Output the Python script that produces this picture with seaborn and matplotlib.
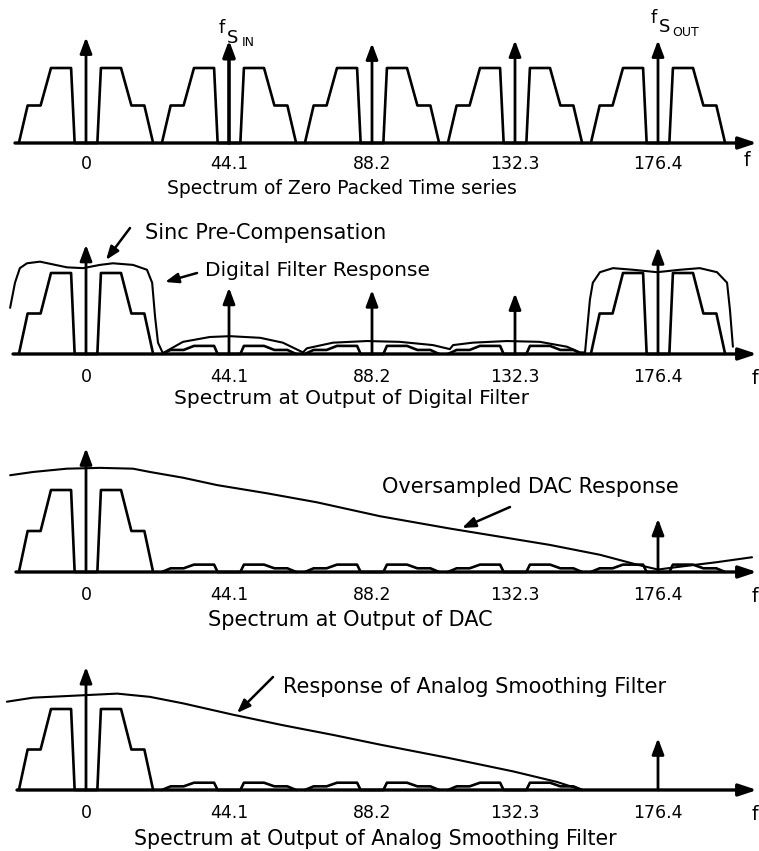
import numpy as np
import pandas as pd
import matplotlib
matplotlib.use("Agg")
import matplotlib.pyplot as plt
import seaborn as sns

sns.set_theme(style="white")
plt.rcParams['font.family'] = ['DejaVu Sans']
plt.rcParams['text.color'] = 'black'

# ---------------- data (frequency in kHz, amplitude relative to image top) ----------------
image_centers = [0.0, 44.1, 88.2, 132.3, 176.4]
tick_labels = ["0", "44.1", "88.2", "132.3", "176.4"]

# one half of the baseband spectrum (mirrored about each image centre)
shape_offset = [3.5, 4.6, 10.8, 14.0, 18.0, 20.7]
shape_level = [0.0, 1.0, 1.0, 0.5, 0.5, 0.0]

# image scale per panel
scale_zero_packed = [1.0, 1.0, 1.0, 1.0, 1.0]
scale_digital = [1.0, 0.1, 0.1, 0.1, 1.0]
scale_dac = [1.0, 0.09, 0.09, 0.09, 0.09]
scale_analog = [1.0, 0.09, 0.09, 0.09, 0.0]

# spectral line heights per panel
line_zero_packed = [1.41, 1.37, 1.33, 1.37, 1.37]
line_digital = [1.35, 0.82, 0.79, 0.75, 1.32]
line_dac = [1.51, 0.0, 0.0, 0.0, 0.65]
line_analog = [1.52, 0.0, 0.0, 0.0, 0.64]

# digital filter response (with sinc pre-compensation)
dig_f = [-23.4, -21.9, -20.4, -18.2, -14.2, -5.9, -0.9, 4.3, 8.3, 14.5, 18.8, 20.4, 21.3,
         22.2, 23.7, 29.9, 38.2, 44.4, 53.7, 60.7, 66.9, 68.1, 76.2, 86.6, 96.8, 107.0,
         112.2, 113.2, 119.3, 129.8, 140.0, 148.3, 152.3, 153.9, 155.4, 156.3, 158.5,
         162.5, 168.7, 176.1, 183.2, 189.3, 194.6, 197.7, 198.6, 199.5]
dig_a = [0.57, 0.88, 1.06, 1.12, 1.14, 1.07, 1.06, 1.10, 1.12, 1.10, 1.04, 0.88, 0.46,
         0.14, 0.01, 0.15, 0.21, 0.22, 0.20, 0.14, 0.02, 0.07, 0.14, 0.16, 0.15, 0.11,
         0.06, 0.11, 0.14, 0.16, 0.15, 0.09, 0.02, 0.02, 0.67, 0.88, 1.01, 1.06, 1.04,
         1.01, 1.04, 1.06, 1.01, 0.88, 0.54, 0.09]

# oversampled DAC response
dac_f = [-23.4, -16.3, -5.9, 4.3, 14.5, 19.7, 29.9, 40.4, 55.8, 71.2, 90.7, 112.2, 127.7,
         143.1, 158.5, 169.9, 176.4, 182.2, 194.6, 205.4]
dac_a = [1.18, 1.22, 1.26, 1.27, 1.26, 1.22, 1.15, 1.06, 0.96, 0.85, 0.68, 0.53, 0.43,
         0.33, 0.21, 0.09, 0.03, 0.06, 0.12, 0.18]

# analog smoothing filter response
ana_f = [-24.4, -16.3, -5.9, 9.6, 19.7, 29.9, 45.3, 60.7, 76.2, 90.7, 111.3, 131.7, 145.2,
         148.3, 152.3]
ana_a = [1.09, 1.14, 1.16, 1.19, 1.15, 1.07, 0.93, 0.80, 0.68, 0.56, 0.40, 0.23, 0.10,
         0.06, 0.01]

titles = ["Spectrum of Zero Packed Time series",
          "Spectrum at Output of Digital Filter",
          "Spectrum at Output of DAC",
          "Spectrum at Output of Analog Smoothing Filter"]

# ---------------- layout (pixel geometry of the reference) ----------------
W, H = 759, 851
PX0 = 86.0                 # pixel of f = 0
PXK = 143.0 / 44.1         # pixels per kHz

def fx(px):
    return (px - PX0) / PXK

panels = [
    dict(top=0, bottom=200, base=143, unit=75, axis_start=15, pad=8.5,
         title_y=188, f_y=160, title_fs=13.5),
    dict(top=200, bottom=430, base=354, unit=81, axis_start=13, pad=10.0,
         title_y=398, f_y=379, title_fs=14.5),
    dict(top=430, bottom=650, base=572, unit=82, axis_start=16, pad=10.0,
         title_y=620, f_y=597, title_fs=15.0),
    dict(top=650, bottom=851, base=790, unit=81, axis_start=17, pad=10.0,
         title_y=839, f_y=814, title_fs=14.8),
]
title_x = [342, 352, 350, 375]

def fy(p, py):
    return (p['base'] - py) / p['unit']

FS = 12.5
FS_ANN = 15
fig = plt.figure(figsize=(W / 100, H / 100), dpi=100)
fig.patch.set_facecolor('white')

def spectrum_frame(scales):
    rows = []
    for k, (c, s) in enumerate(zip(image_centers, scales)):
        if s <= 0:
            continue
        xs = [c - o for o in shape_offset[::-1]] + [c + o for o in shape_offset]
        ys = [s * v for v in shape_level[::-1]] + [s * v for v in shape_level]
        for order, (x, y) in enumerate(zip(xs, ys)):
            rows.append(dict(image=k, order=order, f=x, amp=y))
    return pd.DataFrame(rows)

def draw_arrow(ax, x0, y0, x1, y1, lw=1.8, ms=12, hl=0.8, hw=0.3):
    ax.annotate('', xy=(x1, y1), xytext=(x0, y0), annotation_clip=False,
                arrowprops=dict(arrowstyle=f'-|>,head_length={hl},head_width={hw}',
                                color='black', lw=lw, mutation_scale=ms,
                                shrinkA=0, shrinkB=0))

scale_sets = [scale_zero_packed, scale_digital, scale_dac, scale_analog]
line_sets = [line_zero_packed, line_digital, line_dac, line_analog]
axes = []
for i, p in enumerate(panels):
    ax = fig.add_axes([0, 1 - p['bottom'] / H, 1, (p['bottom'] - p['top']) / H])
    ax.set_xlim(fx(0), fx(W))
    ax.set_ylim(fy(p, p['bottom']), fy(p, p['top']))
    ax.patch.set_alpha(0)
    for s in ['left', 'right', 'top']:
        ax.spines[s].set_visible(False)
    ax.spines['bottom'].set_position(('data', 0))
    ax.spines['bottom'].set_color('none')
    ax.set_yticks([])
    ax.set_xticks(image_centers)
    ax.set_xticklabels(tick_labels, fontsize=FS, color='black')
    ax.tick_params(axis='x', length=0, pad=p['pad'], colors='black')

    # frequency axis with arrow
    draw_arrow(ax, fx(p['axis_start']), 0, fx(W - 2), 0, lw=2.4, ms=12, hl=0.9, hw=0.3)

    # spectral images
    df = spectrum_frame(scale_sets[i])
    sns.lineplot(data=df, x='f', y='amp', units='image', estimator=None, sort=False,
                 color='black', lw=1.9, ax=ax, legend=False)

    # spectral lines
    for c, h in zip(image_centers, line_sets[i]):
        if h > 0:
            lw = 2.6 if (i == 0 and c == 44.1) else 2.0
            draw_arrow(ax, c, 0, c, h, lw=lw)

    ax.text(fx(title_x[i]), fy(p, p['title_y']), titles[i], ha='center', va='center',
            fontsize=p['title_fs'], color='black')
    ax.text(fx(755 if i else 747), fy(p, p['f_y']), 'f', ha='center', va='center',
            fontsize=FS + 1, color='black')
    axes.append(ax)

ax1, ax2, ax3, ax4 = axes
for ax in axes:
    ax.set_xlabel('')
    ax.set_ylabel('')

# sampling frequency labels
p = panels[0]
ax1.text(fx(222), fy(p, 28), 'f', ha='center', va='center', fontsize=13)
ax1.text(fx(233), fy(p, 38), 'S', ha='center', va='center', fontsize=13)
ax1.text(fx(248), fy(p, 42), 'IN', ha='center', va='center', fontsize=9)
ax1.text(fx(654), fy(p, 18), 'f', ha='center', va='center', fontsize=13)
ax1.text(fx(665), fy(p, 27), 'S', ha='center', va='center', fontsize=13)
ax1.text(fx(686), fy(p, 32), 'OUT', ha='center', va='center', fontsize=9)

# digital filter response
p = panels[1]
sns.lineplot(x=dig_f, y=dig_a, estimator=None, sort=False, color='black', lw=1.5, ax=ax2)
ax2.text(fx(145), fy(p, 233), 'Sinc Pre-Compensation', ha='left', va='center',
         fontsize=FS_ANN)
draw_arrow(ax2, fx(130), fy(p, 228), fx(106), fy(p, 260), lw=1.8, ms=10)
ax2.text(fx(205), fy(p, 271), 'Digital Filter Response', ha='left', va='center',
         fontsize=14.5)
draw_arrow(ax2, fx(197), fy(p, 273), fx(165), fy(p, 282), lw=1.8, ms=10)

# DAC response
p = panels[2]
sns.lineplot(x=dac_f, y=dac_a, estimator=None, sort=False, color='black', lw=1.5, ax=ax3)
ax3.text(fx(382), fy(p, 487), 'Oversampled DAC Response', ha='left', va='center',
         fontsize=FS_ANN)
draw_arrow(ax3, fx(510), fy(p, 507), fx(462), fy(p, 528), lw=1.8, ms=10)

# analog smoothing filter response
p = panels[3]
sns.lineplot(x=ana_f, y=ana_a, estimator=None, sort=False, color='black', lw=1.5, ax=ax4)
ax4.text(fx(283), fy(p, 687), 'Response of Analog Smoothing Filter', ha='left',
         va='center', fontsize=FS_ANN)
draw_arrow(ax4, fx(273), fy(p, 677), fx(237), fy(p, 713), lw=1.8, ms=10)

fig.savefig('out.png', dpi=100, facecolor='white')
